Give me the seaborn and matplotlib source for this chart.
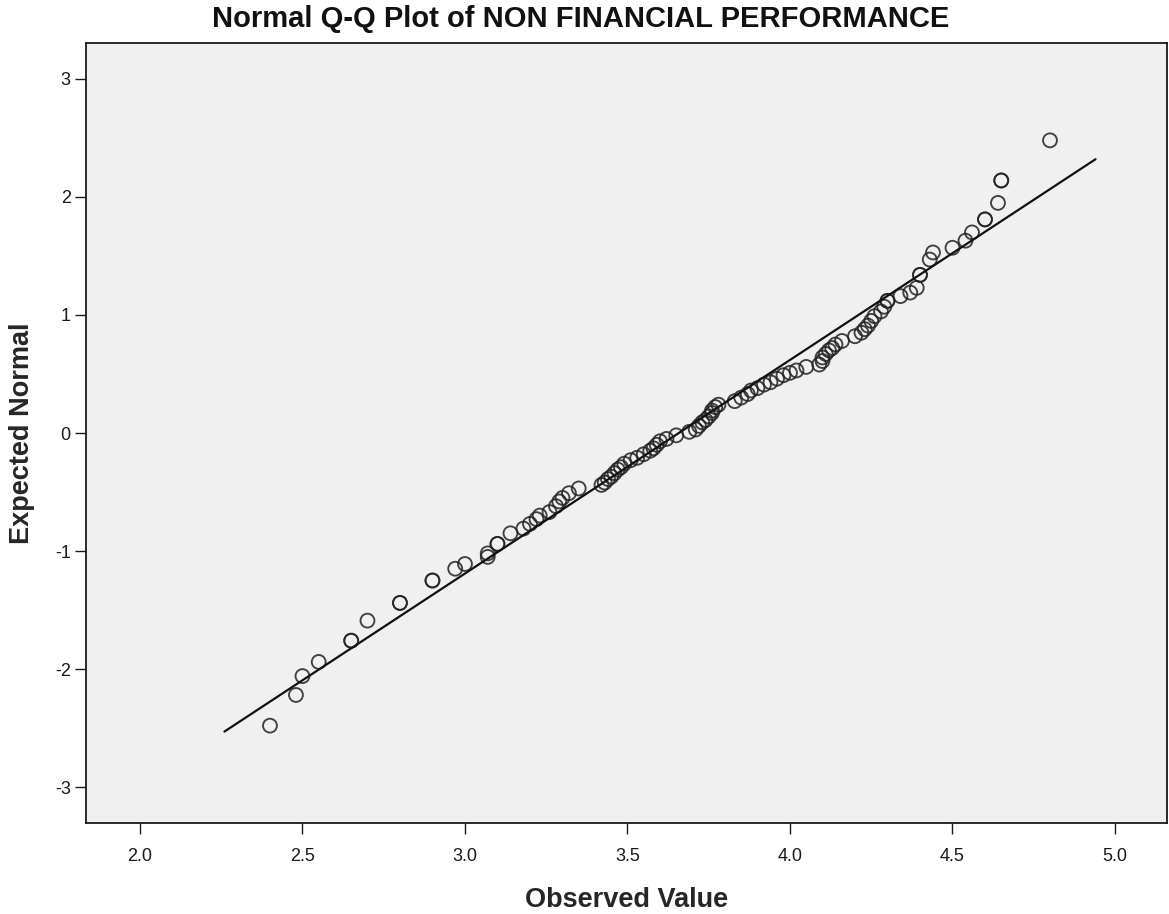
import matplotlib
matplotlib.use("Agg")
import matplotlib.pyplot as plt
import seaborn as sns
import pandas as pd

# Observed scores (sorted) and their expected normal values
observed = [
    2.40, 2.48, 2.50, 2.55, 2.65, 2.65, 2.70, 2.80, 2.80, 2.90, 2.90, 2.97, 3.00,
    3.07, 3.07, 3.10, 3.10, 3.14, 3.18, 3.20, 3.22, 3.23, 3.26, 3.28, 3.29, 3.30,
    3.32, 3.35, 3.42,
    3.43, 3.44, 3.45, 3.46, 3.47, 3.48, 3.49, 3.51, 3.53, 3.55, 3.57, 3.58, 3.59,
    3.60, 3.62, 3.65, 3.69, 3.71, 3.72, 3.73, 3.74, 3.75, 3.76, 3.76, 3.77, 3.78,
    3.83, 3.85, 3.87, 3.88, 3.90, 3.92, 3.94, 3.96, 3.98, 4.00, 4.02, 4.05,
    4.09, 4.10, 4.10, 4.11, 4.12, 4.13, 4.14, 4.16,
    4.20, 4.22, 4.23, 4.24, 4.25, 4.26, 4.28, 4.29, 4.30, 4.30,
    4.34, 4.37, 4.39, 4.40, 4.40, 4.43, 4.44, 4.50, 4.54, 4.56, 4.60, 4.60,
    4.64, 4.65, 4.65, 4.80,
]
expected = [
    -2.48, -2.22, -2.06, -1.94, -1.76, -1.76, -1.59, -1.44, -1.44, -1.25, -1.25, -1.15, -1.11,
    -1.05, -1.02, -0.94, -0.94, -0.85, -0.81, -0.77, -0.73, -0.70, -0.67, -0.62, -0.58, -0.55,
    -0.51, -0.47, -0.44,
    -0.42, -0.39, -0.37, -0.34, -0.31, -0.29, -0.26, -0.23, -0.21, -0.18, -0.15, -0.13, -0.10,
    -0.07, -0.05, -0.02, 0.01, 0.03, 0.06, 0.09, 0.11, 0.14, 0.17, 0.19, 0.22, 0.24,
    0.27, 0.30, 0.33, 0.36, 0.38, 0.41, 0.43, 0.46, 0.49, 0.51, 0.53, 0.56,
    0.58, 0.61, 0.64, 0.67, 0.70, 0.72, 0.75, 0.78,
    0.82, 0.85, 0.88, 0.91, 0.95, 0.99, 1.03, 1.07, 1.12, 1.12,
    1.16, 1.19, 1.23, 1.34, 1.34, 1.47, 1.53, 1.57, 1.63, 1.70, 1.81, 1.81,
    1.95, 2.14, 2.14, 2.48,
]

# Reference normal line end points
line_x = [2.26, 4.94]
line_y = [-2.53, 2.32]

x_ticks = [2.0, 2.5, 3.0, 3.5, 4.0, 4.5, 5.0]
y_ticks = [-3, -2, -1, 0, 1, 2, 3]

sns.set_theme(style="white")
plt.rcParams["font.family"] = ["Liberation Sans", "DejaVu Sans"]

points = pd.DataFrame({"Observed Value": observed, "Expected Normal": expected})
ref_line = pd.DataFrame({"x": line_x, "y": line_y})

fig = plt.figure(figsize=(11.69, 9.14), dpi=100)
ax = fig.add_axes([86 / 1169, 1 - 823 / 914, (1167 - 86) / 1169, (823 - 43) / 914])
ax.set_facecolor("#F0F0F0")

sns.lineplot(data=ref_line, x="x", y="y", ax=ax, color="#111111", linewidth=1.6,
             estimator=None, sort=False)
sns.scatterplot(data=points, x="Observed Value", y="Expected Normal", ax=ax,
                marker="o", s=100, facecolor="none", edgecolor="#222222",
                linewidth=1.35, alpha=0.85)

ax.set_xlim(1.834, 5.16)
ax.set_ylim(-3.305, 3.305)
ax.set_xticks(x_ticks)
ax.set_xticklabels([f"{v:.1f}" for v in x_ticks])
ax.set_yticks(y_ticks)
ax.set_yticklabels([str(v) for v in y_ticks])

for side in ["left", "right", "top", "bottom"]:
    ax.spines[side].set_visible(True)
    ax.spines[side].set_color("#1a1a1a")
    ax.spines[side].set_linewidth(1.3)

ax.tick_params(axis="both", which="major", direction="out", length=8, width=1,
               color="#1a1a1a", labelsize=13, labelcolor="#1a1a1a")
ax.tick_params(axis="x", pad=10)
ax.tick_params(axis="y", pad=3)
ax.tick_params(top=False, right=False, bottom=True, left=True)

ax.set_xlabel("Observed Value", fontsize=19.5, fontweight="bold", labelpad=16)
ax.set_ylabel("Expected Normal", fontsize=19.5, fontweight="bold", labelpad=14)

fig.text(0.497, 1 - 19 / 914, "Normal Q-Q Plot of NON FINANCIAL PERFORMANCE",
         ha="center", va="center", fontsize=21, fontweight="bold", color="#111111")

fig.savefig("out.png", dpi=100, facecolor="white")
